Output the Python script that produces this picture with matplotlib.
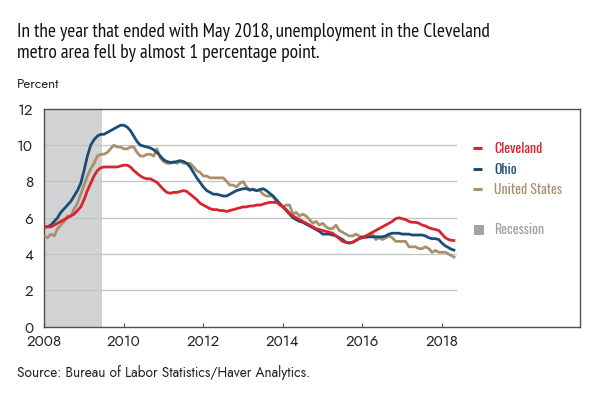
import matplotlib
matplotlib.use("Agg")
import matplotlib.pyplot as plt
import numpy as np

start_year = 2008.0
cleveland = [5.5,5.5,5.5,5.6,5.7,5.8,5.9,6.0,6.1,6.2,6.4,6.6,
             7.0,7.5,7.9,8.3,8.6,8.75,8.8,8.8,8.8,8.8,8.8,8.85,
             8.9,8.9,8.8,8.6,8.45,8.3,8.2,8.15,8.15,8.05,7.95,7.75,
             7.55,7.4,7.35,7.4,7.4,7.45,7.5,7.45,7.3,7.15,7.0,6.8,
             6.7,6.6,6.5,6.45,6.45,6.4,6.4,6.35,6.4,6.45,6.5,6.55,
             6.6,6.6,6.65,6.65,6.7,6.7,6.75,6.8,6.85,6.85,6.85,6.75,
             6.6,6.45,6.25,6.1,6.0,5.9,5.8,5.7,5.6,5.5,5.4,5.35,
             5.3,5.25,5.2,5.15,5.0,4.85,4.7,4.65,4.63,4.65,4.75,4.85,
             4.9,5.0,5.1,5.2,5.3,5.4,5.5,5.6,5.7,5.8,5.95,6.0,
             5.95,5.9,5.8,5.75,5.75,5.7,5.6,5.55,5.45,5.4,5.35,5.3,
             5.1,4.9,4.8,4.75,4.75]
ohio = [5.5,5.5,5.6,5.8,6.0,6.3,6.5,6.7,6.9,7.2,7.5,7.9,
        8.6,9.4,10.0,10.3,10.5,10.6,10.6,10.7,10.8,10.9,11.0,11.1,
        11.1,11.0,10.8,10.5,10.2,10.0,9.95,9.9,9.85,9.75,9.6,9.4,
        9.2,9.1,9.05,9.05,9.1,9.15,9.1,9.0,8.8,8.5,8.2,7.95,
        7.7,7.5,7.4,7.3,7.3,7.25,7.2,7.2,7.3,7.4,7.5,7.55,
        7.6,7.6,7.55,7.55,7.5,7.55,7.6,7.5,7.35,7.2,7.0,6.8,
        6.6,6.4,6.2,6.0,5.9,5.8,5.75,5.65,5.55,5.45,5.35,5.25,
        5.1,5.1,5.1,5.05,5.0,4.9,4.8,4.65,4.6,4.65,4.75,4.85,
        4.95,4.95,4.95,4.95,4.95,4.95,4.95,5.0,5.1,5.15,5.15,5.15,
        5.1,5.1,5.1,5.05,5.05,5.05,5.05,5.0,4.9,4.85,4.85,4.8,
        4.6,4.45,4.35,4.25,4.2]
united_states = [5.0,4.9,5.1,5.0,5.4,5.6,5.8,6.1,6.1,6.5,6.8,7.3,
                 7.8,8.3,8.7,9.0,9.4,9.5,9.5,9.6,9.8,10.0,9.9,9.9,
                 9.8,9.8,9.9,9.9,9.6,9.4,9.4,9.5,9.5,9.4,9.8,9.3,
                 9.1,9.0,9.0,9.1,9.0,9.1,9.0,9.0,9.0,8.8,8.6,8.5,
                 8.3,8.3,8.2,8.2,8.2,8.2,8.2,8.0,7.8,7.8,7.7,7.9,
                 8.0,7.7,7.5,7.6,7.5,7.5,7.3,7.2,7.2,7.2,6.9,6.7,
                 6.6,6.7,6.7,6.2,6.3,6.1,6.2,6.1,5.9,5.7,5.8,5.6,
                 5.7,5.5,5.4,5.4,5.6,5.3,5.2,5.1,5.0,5.0,5.1,5.0,
                 4.9,4.9,5.0,5.1,4.8,4.9,4.8,4.9,5.0,4.9,4.7,4.7,
                 4.7,4.7,4.4,4.4,4.4,4.3,4.3,4.4,4.3,4.1,4.2,4.1,
                 4.1,4.1,4.0,3.9,3.8]
recession = (2008.0, 2009.45)
series_names = ["Cleveland", "Ohio", "United States"]
colors = ["#d9232d", "#1b4d74", "#a8906f"]
x_ticks = [2008, 2010, 2012, 2014, 2016, 2018]
y_ticks = [0, 2, 4, 6, 8, 10, 12]

TITLE_FONT = "PT Sans Narrow"
LEG_FONT = "Oswald"
BODY = "Jost"

t = start_year + np.arange(len(cleveland)) / 12.0

fig = plt.figure(figsize=(6, 3.94), dpi=100)
ax = fig.add_axes([0.0738, 0.1709, 0.893, 0.5527])
ax.set_xlim(2008, 2021.47)
ax.set_ylim(0, 12)

ax.axvspan(*recession, color="#d1d2d4", lw=0, zorder=0)
for y in y_ticks[1:-1]:
    ax.plot([2008, t[-1] + 0.02], [y, y], color="#c3c3c3", lw=0.9, zorder=1)

for vals, c in zip([united_states, ohio, cleveland], [colors[2], colors[1], colors[0]]):
    ax.plot(t, vals, color=c, lw=2.0, zorder=3, solid_capstyle="butt")

for s in ax.spines.values():
    s.set_color("#505050")
    s.set_linewidth(1.0)

ax.set_xticks(x_ticks)
ax.set_yticks(y_ticks)
ax.tick_params(axis="x", direction="in", length=3, color="#505050", labelsize=11, pad=5, labelcolor="#222222")
ax.tick_params(axis="y", length=0, labelsize=11, pad=8, labelcolor="#222222")
for lab in ax.get_xticklabels() + ax.get_yticklabels():
    lab.set_family(BODY)

# legend
leg_y = [9.83, 8.67, 7.56]
leg_texts = []
for name, c, ly in zip(series_names, colors, leg_y):
    ax.plot([2018.77, 2019.01], [ly, ly], color=c, lw=2.2, clip_on=False, solid_capstyle="butt")
    leg_texts.append(ax.text(2019.31, ly, name, color=c, fontsize=11.5, family=LEG_FONT,
                             fontweight="normal", va="center", ha="left"))
ax.scatter([2018.94], [5.33], marker="s", s=50, color="#a3a3a3", clip_on=False, linewidths=0)
leg_texts.append(ax.text(2019.31, 5.33, "Recession", color="#a0a0a0", fontsize=11.5, family=LEG_FONT,
                         fontweight="normal", va="center", ha="left"))

t1 = fig.text(0.028, 1 - 36.7 / 394, "In the year that ended with May 2018, unemployment in the Cleveland",
              fontsize=15.5, family=TITLE_FONT, color="#111111", va="baseline")
t2 = fig.text(0.028, 1 - 58.5 / 394, "metro area fell by almost 1 percentage point.",
              fontsize=15.5, family=TITLE_FONT, color="#111111", va="baseline")
pct = fig.text(0.028, 1 - 85 / 394, "Percent", fontsize=10, family=BODY, color="#222222", va="center")
src = fig.text(0.028, 1 - 373 / 394, "Source: Bureau of Labor Statistics/Haver Analytics.", fontsize=10,
               family=BODY, color="#222222", va="center")

# fit text widths to the reference's measured lengths
r = fig.canvas.get_renderer()
def fit(texts, ref, target):
    w = ref.get_window_extent(r).width
    s = ref.get_fontsize() * target / w
    for tx in texts:
        tx.set_fontsize(s)
fit([t1, t2], t1, 471.0)
fit([src], src, 293.0)
fit(leg_texts, leg_texts[0], 48.0)
fit([pct], pct, 42.0)

fig.savefig("out.png", dpi=100)
